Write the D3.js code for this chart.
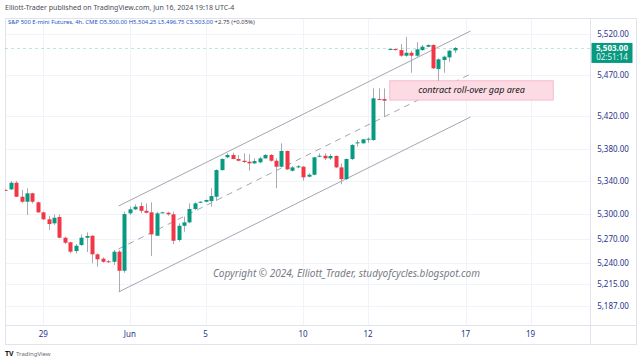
<!DOCTYPE html>
<html>
<head>
  <meta charset="UTF-8">
  <style>
    body { margin: 0; background: #fff; }
    text { font-family: "Noto Sans", sans-serif; }
  </style>
</head>
<body>
<script src="https://d3js.org/d3.v7.min.js"></script>
<div id="my_dataviz"></div>
<script>

// 4h bars, index 0 = first (partly hidden) bar on the left
var opens  = [5329.5,5330.1,5338.2,5321.1,5315.0,5325.3,5314.3,5302.0,5293.5,5288.6,5296.3,5271.0,5265.4,5254.7,5262.1,5271.0,5273.4,5250.7,5245.3,5242.2,5241.6,5253.9,5230.6,5300.8,5305.7,5309.7,5303.9,5302.0,5273.4,5301.2,5301.5,5299.6,5268.2,5285.6,5289.8,5306.1,5313.8,5315.0,5315.8,5321.1,5353.7,5369.3,5372.1,5367.2,5365.1,5363.9,5361.9,5363.2,5368.0,5372.1,5365.1,5357.8,5377.0,5352.9,5357.0,5357.8,5345.6,5348.0,5370.0,5371.2,5368.0,5370.9,5357.0,5342.7,5367.2,5386.4,5386.4,5391.3,5390.4,5440.5,5440.5,5501.3,5501.7,5500.4,5493.5,5497.1,5493.5,5500.4,5504.5,5506.6,5477.2,5488.2,5491.5,5500];
var highs  = [5330,5340.3,5340.3,5329.3,5331.4,5326,5315,5302.8,5297.5,5299.6,5299.6,5272.2,5266.1,5263.3,5275.1,5277.6,5274,5251.9,5247.0,5243.7,5256.0,5256,5302.8,5308.9,5311.8,5314.3,5313.0,5314.3,5302.8,5302.8,5302.8,5302.8,5288.6,5296.7,5313.0,5314.3,5315.5,5317.9,5331.4,5354.6,5368.0,5374.2,5374.9,5372.1,5374.2,5372.9,5368.0,5370.0,5373.3,5373.3,5368.0,5386.4,5377.5,5358.6,5359.9,5358.6,5349.7,5370.0,5374.2,5374.2,5373.3,5371.7,5361.9,5368.0,5385.5,5390.4,5391.6,5393.7,5453.6,5453.6,5453.6,5502.5,5502,5507.8,5516.7,5499.6,5509.9,5506.6,5507.4,5507.4,5490.3,5493.5,5500.4,5504.25];
var lows   = [5328.5,5329.3,5320.7,5313.4,5298.7,5313,5301.5,5292.6,5280.4,5286.5,5270.2,5263.3,5251.9,5251.9,5260.8,5253.5,5239.7,5235.5,5240.4,5240.4,5237.6,5205.0,5228.2,5298.7,5304.8,5300.8,5300.8,5248.6,5273.0,5300.8,5297.9,5263.3,5266.1,5278.3,5288.6,5304.8,5313.3,5314.3,5308.9,5316,5352.9,5368.0,5366.8,5364.4,5362.7,5352.9,5361.1,5361.9,5367.6,5363.9,5331.4,5357.0,5353.7,5351.7,5355.8,5340.7,5344.8,5347.3,5369.3,5366.0,5366.0,5356.2,5336.3,5341.5,5366.0,5382.2,5386.4,5387.1,5389.6,5439.3,5418.5,5500.4,5499.8,5492.3,5492.3,5472.7,5492.3,5499.6,5503.7,5477.2,5462.9,5472.7,5486.1,5496.75];
var closes = [5329,5338.2,5321.1,5315.0,5325.3,5315.0,5302.0,5293.5,5287.7,5295.4,5271.0,5264.9,5253.9,5261.2,5271.0,5273.1,5250.7,5244.6,5241.6,5241.6,5253.9,5230.6,5299.9,5305.7,5308.9,5303.9,5301.5,5275.1,5300.8,5302.0,5299.6,5267.3,5285.6,5289.8,5306.1,5313.0,5315.0,5317.1,5321.9,5353.7,5367.2,5372.1,5367.2,5365.1,5363.5,5361.9,5364.7,5368.0,5372.1,5365.1,5357.8,5377.0,5354.6,5357.0,5358.3,5344.8,5348.0,5369.3,5371.2,5368.0,5370.9,5357.0,5342.7,5367.2,5384.3,5387.6,5391.3,5392.0,5441.4,5439.9,5438.5,5501.7,5500.4,5493.5,5497.1,5493.5,5501.3,5504.5,5506.6,5478.1,5489.1,5492.3,5499.6,5503];

// axis ticks
var priceTicks = [5520, 5470, 5420, 5380, 5340, 5300, 5270, 5240, 5215, 5187];
var dateTickBars = [7, 23, 37, 55, 67, 85, 97];
var dateTickLabels = ["29", "Jun", "5", "10", "12", "17", "19"];

// drawings: channel (bar index, price) and the gap note
var channelBars = [20.9, 85.9];
var channelLower = [5204.6, 5418.5];
var channelMid = [5257.2, 5471.1];
var channelUpper = [5309.7, 5523.6];
var gapBoxBars = [71, 101.2];
var gapBoxPrices = [5462.9, 5439.3];
var lastPrice = 5503;

var W = 640, H = 362;
var frame = {left: 5, top: 18, right: 636, bottom: 344},
    axisX = 590.5, axisY = 325;

var green = "#089981", red = "#f23645";

var svg = d3.select("#my_dataviz")
  .append("svg")
    .attr("width", W)
    .attr("height", H);

svg.append("rect").attr("width", W).attr("height", H).attr("fill", "#fff");

var x = d3.scaleLinear().domain([-0.98, 108.08]).range([0, axisX]);
var y = d3.scaleLinear().domain([5164.3, 5539.6]).range([axisY, frame.top]);
var fmt = d3.format(",.2f");

svg.append("clipPath").attr("id", "plot")
  .append("rect")
    .attr("x", frame.left).attr("y", frame.top)
    .attr("width", axisX - frame.left).attr("height", axisY - frame.top);

// grid
var grid = svg.append("g").attr("clip-path", "url(#plot)");
grid.selectAll(".hg").data(priceTicks).enter().append("line")
    .attr("x1", frame.left).attr("x2", axisX)
    .attr("y1", function(d) { return Math.round(y(d)) + 0.5; })
    .attr("y2", function(d) { return Math.round(y(d)) + 0.5; })
    .style("stroke", "#f0f3fa");
grid.selectAll(".vg").data(dateTickBars).enter().append("line")
    .attr("y1", frame.top).attr("y2", axisY)
    .attr("x1", function(d) { return Math.round(x(d)) + 0.5; })
    .attr("x2", function(d) { return Math.round(x(d)) + 0.5; })
    .style("stroke", "#f0f3fa");

// frame and axis separators
svg.append("rect")
    .attr("x", frame.left + 0.5).attr("y", frame.top + 0.5)
    .attr("width", frame.right - frame.left).attr("height", frame.bottom - frame.top)
    .attr("fill", "none").style("stroke", "#e0e3eb");
svg.append("line").attr("x1", axisX).attr("x2", axisX)
    .attr("y1", frame.top).attr("y2", frame.bottom + 0.5).style("stroke", "#e0e3eb");
svg.append("line").attr("x1", frame.left).attr("x2", frame.right + 0.5)
    .attr("y1", axisY + 0.5).attr("y2", axisY + 0.5).style("stroke", "#e0e3eb");

var plot = svg.append("g").attr("clip-path", "url(#plot)");

// copyright watermark
plot.append("text")
    .attr("x", 213).attr("y", 277)
    .attr("font-size", "10px")
    .attr("font-style", "italic")
    .attr("fill", "#787b86")
    .text("Copyright \u00a9 2024, Elliott_Trader, studyofcycles.blogspot.com");

// last price line
plot.append("line")
    .attr("x1", frame.left).attr("x2", axisX)
    .attr("y1", Math.round(y(lastPrice)) + 0.5).attr("y2", Math.round(y(lastPrice)) + 0.5)
    .style("stroke", green).style("opacity", 0.25)
    .style("stroke-dasharray", "3,3");

// channel
var chan = [
  {p: channelLower, dash: null},
  {p: channelUpper, dash: null},
  {p: channelMid, dash: "6,5"}
];
plot.selectAll(".chan").data(chan).enter().append("line")
    .attr("x1", x(channelBars[0])).attr("x2", x(channelBars[1]))
    .attr("y1", function(d) { return y(d.p[0]); })
    .attr("y2", function(d) { return y(d.p[1]); })
    .style("stroke", "#a3a6af")
    .style("stroke-width", 1)
    .style("stroke-dasharray", function(d) { return d.dash; });

// gap annotation
plot.append("rect")
    .attr("x", x(gapBoxBars[0])).attr("y", y(gapBoxPrices[0]))
    .attr("width", x(gapBoxBars[1]) - x(gapBoxBars[0]))
    .attr("height", y(gapBoxPrices[1]) - y(gapBoxPrices[0]))
    .attr("fill", "#fcdbe4")
    .style("stroke", "#f7bccd");
plot.append("text")
    .attr("x", (x(gapBoxBars[0]) + x(gapBoxBars[1])) / 2)
    .attr("y", (y(gapBoxPrices[0]) + y(gapBoxPrices[1])) / 2 + 3)
    .attr("text-anchor", "middle")
    .attr("font-size", "9px")
    .attr("font-style", "italic")
    .attr("fill", "#131722")
    .text("contract roll-over gap area");

// candles
var bars = opens.map(function(o, i) {
  return {i: i, o: o, h: highs[i], l: lows[i], c: closes[i]};
});
var bw = 4;
plot.selectAll(".wick").data(bars).enter().append("line")
    .attr("x1", function(d) { return Math.round(x(d.i)) + 0.5; })
    .attr("x2", function(d) { return Math.round(x(d.i)) + 0.5; })
    .attr("y1", function(d) { return y(d.h); })
    .attr("y2", function(d) { return y(d.l); })
    .style("stroke", "#a8abb3");
plot.selectAll(".body").data(bars).enter().append("rect")
    .attr("x", function(d) { return Math.round(x(d.i)) + 0.5 - bw / 2; })
    .attr("width", bw)
    .attr("y", function(d) { return y(Math.max(d.o, d.c)); })
    .attr("height", function(d) { return Math.max(1, Math.abs(y(d.o) - y(d.c))); })
    .attr("fill", function(d) { return d.c >= d.o ? green : red; });

// price axis
svg.selectAll(".pt").data(priceTicks).enter().append("text")
    .attr("x", 613).attr("y", function(d) { return y(d) + 3; })
    .attr("text-anchor", "middle")
    .attr("font-size", "8px")
    .attr("fill", "#27338a")
    .text(function(d) { return fmt(d); });

// last price label
svg.append("rect")
    .attr("x", axisX + 1).attr("y", y(lastPrice) - 5)
    .attr("width", 41).attr("height", 20)
    .attr("fill", green);
svg.append("text")
    .attr("x", 612).attr("y", y(lastPrice) + 3)
    .attr("text-anchor", "middle").attr("font-size", "8px")
    .attr("font-weight", "bold").attr("fill", "#fff")
    .text(fmt(lastPrice));
svg.append("text")
    .attr("x", 612).attr("y", y(lastPrice) + 12.5)
    .attr("text-anchor", "middle").attr("font-size", "8px")
    .attr("fill", "#e6f5f1")
    .text("02:51:14");

// time axis
svg.selectAll(".dt").data(dateTickBars).enter().append("text")
    .attr("x", function(d) { return x(d); })
    .attr("y", 337)
    .attr("text-anchor", "middle")
    .attr("font-size", "8px")
    .attr("fill", "#27338a")
    .text(function(d, i) { return dateTickLabels[i]; });

// header and legend
svg.append("text")
    .attr("x", 5).attr("y", 9.5)
    .attr("font-size", "7px").attr("fill", "#4a4d55")
    .text("Elliott-Trader published on TradingView.com, Jun 16, 2024 19:18 UTC-4");
svg.append("text")
    .attr("x", 8).attr("y", 24)
    .attr("font-size", "5.9px").attr("fill", "#2150c8")
    .text("S&P 500 E-mini Futures, 4h, CME  O5,500.00  H5,504.25  L5,496.75  C5,503.00")
  .append("tspan")
    .attr("fill", "#3a3d45")
    .text("  +2.75 (+0.05%)");

// logo
svg.append("text")
    .attr("x", 5).attr("y", 356)
    .attr("font-size", "7px").attr("font-weight", "bold").attr("fill", "#131722")
    .text("TV");
svg.append("text")
    .attr("x", 16).attr("y", 356)
    .attr("font-size", "6px").attr("fill", "#6a6d78")
    .text("TradingView");

</script>
</body>
</html>
